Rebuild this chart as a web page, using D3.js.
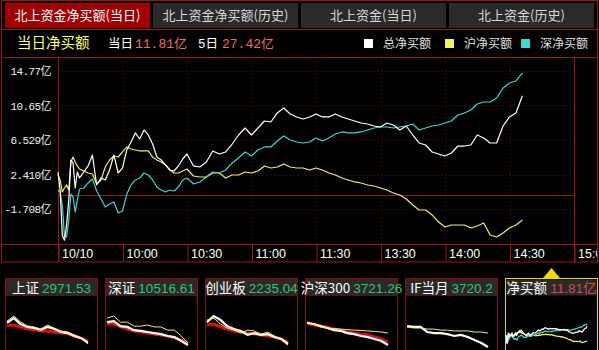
<!DOCTYPE html>
<html>
<head>
<meta charset="utf-8">
<script src="https://cdn.jsdelivr.net/npm/d3@7"></script>
<style>
  body { margin: 0; background: #000; }
  svg { display: block; }
  text { font-family: 'Noto Sans CJK SC', sans-serif; }
</style>
</head>
<body>
<div id="chart"></div>
<script>
// Northbound flow, intraday (亿). minutes since 9:30, trading time only
const minutes = [0, 1, 2, 3, 4, 5, 6, 7, 8, 9, 10,
  12, 14, 16, 18, 20, 22, 24, 26, 28, 30, 32, 34, 36, 38, 40, 42, 44, 46, 48, 50, 52, 54, 56, 58, 60,
  63, 66, 69, 72, 75, 78, 81, 84, 87, 90, 93, 96, 99, 102, 105, 108, 111, 114, 117, 120, 123, 126,
  129, 132, 135, 138, 141, 144, 147, 150, 153, 156, 159, 162, 165, 168, 171, 174, 177, 180, 183,
  186, 189, 192, 195, 198, 201, 204, 207, 210, 213, 216];

const totalNet = [2.71, 0.56, -4.84, -5.43, -3.64, -0.63, 4.14, 3.79, 0.80, 2.71, 2.00,
  2.71, 3.43, 4.74, 1.16, 2.00, 1.76, 2.95, 4.74, 2.59, 3.19, 5.34, 6.29, 7.37, 6.65, 7.73, 7.13, 6.05, 4.50, 4.14, 3.55, 2.95, 2.83, 3.43, 4.26, 4.86,
  3.43, 3.31, 3.91, 5.22, 4.86, 5.10, 6.05, 7.13, 7.96, 7.13, 7.96, 8.80, 8.68, 9.76, 10.35, 9.64,
  9.28, 9.04, 9.28, 9.64, 9.28, 9.28, 9.64, 9.28, 9.04, 8.80, 8.56, 8.44, 8.20, 8.08, 8.56, 8.32,
  7.73, 8.20, 7.13, 6.17, 5.93, 5.10, 4.86, 4.62, 4.98, 5.81, 5.81, 5.93, 7.13, 6.77, 6.17, 6.17,
  8.20, 9.28, 9.76, 11.81];

const shNet = [2.35, 1.76, 0.32, 0.80, 1.16, 0.56, 3.90, 4.50, 3.90, 3.43, 3.07,
  2.83, 2.59, 2.47, 1.28, 1.76, 3.31, 4.14, 4.62, 4.50, 5.10, 5.70, 5.46, 5.34, 5.22, 5.22, 5.22, 4.50, 4.14, 3.90, 3.55, 2.95, 2.59, 2.59, 2.83, 3.07,
  2.23, 2.11, 2.11, 2.59, 2.59, 1.99, 2.35, 2.35, 2.71, 2.59, 2.83, 3.43, 3.19, 3.31, 3.67, 3.31,
  3.19, 3.19, 2.95, 3.19, 2.95, 2.59, 2.35, 1.99, 1.76, 1.52, 1.40, 1.16, 1.04, 0.80, 0.56, 0.20,
  -0.04, -0.51, -1.23, -1.83, -1.83, -2.42, -3.26, -3.86, -3.62, -3.62, -3.62, -3.98, -3.74, -3.38,
  -4.81, -5.05, -4.57, -3.98, -3.62, -3.02];

const szNet = [0.56, 0.32, -1.23, -4.93, -5.05, -3.02, 0.08, -0.27, -2.07, -0.63, 0.68,
  0.80, 1.40, 1.87, 0.44, -0.51, -1.47, -1.11, -0.87, -2.19, -1.95, 0.08, 1.16, 1.76, 2.00, 2.59, 2.35, 1.76, 0.92, 0.56, 0.32, 0.56, 0.44, 0.92, 1.76, 2.00,
  1.28, 1.52, 2.11, 2.71, 2.59, 2.95, 3.79, 4.38, 5.10, 4.62, 5.34, 5.70, 5.70, 6.41, 7.01, 6.53,
  6.29, 6.17, 6.29, 6.77, 6.41, 6.77, 7.25, 7.49, 7.37, 7.37, 7.49, 7.73, 7.96, 8.08, 8.08, 7.96,
  8.08, 8.20, 8.44, 7.73, 7.96, 8.20, 8.32, 8.56, 8.80, 9.52, 9.76, 10.11, 10.83, 11.07, 11.07, 11.55,
  12.74, 13.34, 13.58, 14.53];

const yTicks = [14.77, 10.65, 6.529, 2.410, -1.708];
const yTickLabels = ['14.77亿', '10.65亿', '6.529亿', '2.410亿', '-1.708亿'];
const xTicks = [0, 30, 60, 90, 120, 150, 180, 210, 240];
const xTickLabels = ['10/10', '10:00', '10:30', '11:00', '11:30', '13:30', '14:00', '14:30', '15:00'];

const tabLabels = ['北上资金净买额(当日)', '北上资金净买额(历史)', '北上资金(当日)', '北上资金(历史)'];
const legendNames = ['总净买额', '沪净买额', '深净买额'];
const todayNet = '11.81亿';
const fiveDayNet = '27.42亿';

// bottom thumbnails (index % change, 13 samples through the day)
const thumbNames = ['上证', '深证', '创业板', '沪深300', 'IF当月', '净买额'];
const thumbValues = ['2971.53', '10516.61', '2235.04', '3721.26', '3720.2', '11.81亿'];
const thumbWhite = [
  [-0.26, -0.08, -0.30, -0.41, -0.45, -0.52, -0.41, -0.49, -0.60, -0.64, -0.75, -0.83, -1.01],
  [-0.23, -0.19, -0.38, -0.41, -0.53, -0.56, -0.60, -0.64, -0.68, -0.75, -0.79, -0.94, -1.09],
  [-0.23, 0.00, -0.15, -0.38, -0.49, -0.56, -0.71, -0.64, -0.71, -0.68, -0.79, -0.86, -1.05],
  [-0.26, -0.30, -0.38, -0.45, -0.53, -0.56, -0.64, -0.68, -0.75, -0.79, -0.86, -0.94, -1.09],
  [-0.38, -0.41, -0.41, -0.60, -0.64, -0.64, -0.68, -0.75, -0.71, -0.79, -0.90, -1.01, -1.16]
];
const thumbYellow = [
  [-0.19, 0.00, -0.22, -0.37, -0.41, -0.49, -0.34, -0.45, -0.56, -0.60, -0.71, -0.83, -1.05],
  [-0.08, 0.00, -0.23, -0.23, -0.38, -0.38, -0.34, -0.41, -0.41, -0.53, -0.53, -0.75, -1.01],
  [-0.15, -0.08, -0.30, -0.45, -0.53, -0.64, -0.53, -0.56, -0.68, -0.60, -0.75, -0.90, -1.09],
  [-0.23, -0.30, -0.41, -0.45, -0.47, -0.49, -0.51, -0.53, -0.54, -0.56, -0.58, -0.60, -0.64],
  [-0.41, -0.45, -0.45, -0.49, -0.49, -0.53, -0.53, -0.56, -0.56, -0.56, -0.60, -0.60, -0.64]
];
const thumbRed = [
  [-0.37, -0.34, -0.41, -0.49, -0.52, -0.56, -0.56, -0.60, -0.64, -0.67, -0.75, -0.83, -0.94],
  [-0.30, -0.30, -0.41, -0.49, -0.56, -0.60, -0.64, -0.68, -0.71, -0.75, -0.83, -0.90, -1.01],
  [-0.34, -0.30, -0.41, -0.49, -0.56, -0.60, -0.64, -0.68, -0.71, -0.75, -0.79, -0.86, -0.98],
  [-0.26, -0.34, -0.38, -0.41, -0.49, -0.53, -0.60, -0.64, -0.68, -0.71, -0.79, -0.86, -0.98],
  null
];

const frameColor = '#9a1818';
const gridColor = '#6a0c0c';
const colors = { total: '#ffffff', sh: '#f4f060', sz: '#3ed8d4' };

const svg = d3.select('#chart').append('svg')
  .attr('width', 599)
  .attr('height', 350)
  .style('background', '#000');

// tabs
const tabs = svg.append('g');
tabLabels.forEach((label, i) => {
  const tx = 5 + i * 148;
  tabs.append('rect')
    .attr('x', tx).attr('y', 3)
    .attr('width', 145).attr('height', 25)
    .attr('fill', i === 0 ? '#a00000' : '#2a2a2a');
  tabs.append('text')
    .attr('x', tx + 72.5).attr('y', 20)
    .attr('text-anchor', 'middle')
    .attr('font-size', 13)
    .attr('fill', i === 0 ? '#ffffff' : '#d8d8d8')
    .text(label);
});

// outer frame and separators
const frame = svg.append('g').attr('stroke', frameColor).attr('stroke-width', 1).attr('fill', 'none');
frame.append('rect').attr('x', 1.5).attr('y', 0.5).attr('width', 596).attr('height', 261.5);
[29.5, 57.5, 244.5].forEach(yy => {
  frame.append('line').attr('x1', 1.5).attr('x2', 597.5).attr('y1', yy).attr('y2', yy);
});

// header row
svg.append('text')
  .attr('x', 17).attr('y', 48)
  .attr('font-size', 14.5)
  .attr('fill', '#ffff66')
  .text('当日净买额');

const info = svg.append('text').attr('y', 48).attr('font-size', 12.5);
info.append('tspan').attr('x', 108).attr('fill', '#fff').text('当日');
info.append('tspan').attr('x', 135).attr('fill', '#f06a6a')
  .style('font-family', "'Liberation Mono', 'Noto Sans CJK SC'").attr('font-size', 13).text(todayNet);
info.append('tspan').attr('x', 198).attr('fill', '#fff')
  .style('font-family', "'Liberation Mono', 'Noto Sans CJK SC'").text('5日');
info.append('tspan').attr('x', 222).attr('fill', '#f06a6a')
  .style('font-family', "'Liberation Mono', 'Noto Sans CJK SC'").attr('font-size', 13).text(fiveDayNet);

// legend
const legendColors = [colors.total, colors.sh, colors.sz];
const legendX = [364, 445, 521];
legendNames.forEach((name, i) => {
  svg.append('rect')
    .attr('x', legendX[i]).attr('y', 39)
    .attr('width', 9).attr('height', 9)
    .attr('fill', legendColors[i]);
  svg.append('text')
    .attr('x', legendX[i] + 19).attr('y', 48)
    .attr('font-size', 12)
    .attr('fill', '#e0e0e0')
    .text(name);
});

// scales
const x = d3.scaleLinear().domain([0, 240]).range([58, 574]);
const y = d3.scaleLinear().domain([-5.887, 16.44]).range([244, 57]);

// dotted grid
const grid = svg.append('g').attr('stroke', gridColor).attr('stroke-dasharray', '1,3');
yTicks.forEach(v => {
  grid.append('line')
    .attr('x1', 50).attr('x2', 574)
    .attr('y1', Math.round(y(v)) + 0.5).attr('y2', Math.round(y(v)) + 0.5);
});
xTicks.slice(1, -1).forEach(m => {
  grid.append('line')
    .attr('x1', Math.round(x(m)) + 0.5).attr('x2', Math.round(x(m)) + 0.5)
    .attr('y1', 58).attr('y2', 244);
});

// zero line + plot sides
svg.append('line')
  .attr('x1', 58).attr('x2', 574)
  .attr('y1', Math.round(y(0)) + 0.5).attr('y2', Math.round(y(0)) + 0.5)
  .attr('stroke', frameColor);
[0, 240].forEach(m => {
  svg.append('line')
    .attr('x1', Math.round(x(m)) + 0.5).attr('x2', Math.round(x(m)) + 0.5)
    .attr('y1', 57).attr('y2', 262)
    .attr('stroke', frameColor);
});

// y axis labels
const yAxis = d3.axisLeft(y)
  .tickValues(yTicks)
  .tickFormat((d, i) => yTickLabels[i])
  .tickSize(0)
  .tickPadding(7);
const yg = svg.append('g').attr('transform', 'translate(58,0)').call(yAxis);
yg.select('.domain').remove();
yg.selectAll('text')
  .attr('fill', '#f0f0f0')
  .attr('font-size', 11)
  .style('font-family', "'Liberation Mono', 'Noto Sans CJK SC'")
  .attr('letter-spacing', -0.6)
  .attr('dy', '0.35em');

// x axis labels
svg.append('clipPath').attr('id', 'frameClip')
  .append('rect').attr('x', 0).attr('y', 0).attr('width', 597).attr('height', 350);
const xAxis = d3.axisBottom(x)
  .tickValues(xTicks)
  .tickFormat((d, i) => xTickLabels[i])
  .tickSize(17)
  .tickPadding(0);
const xg = svg.append('g')
  .attr('clip-path', 'url(#frameClip)')
  .append('g')
  .attr('transform', 'translate(0.5,244.5)')
  .call(xAxis);
xg.select('.domain').remove();
xg.selectAll('.tick line').attr('stroke', frameColor);
xg.selectAll('.tick text')
  .attr('fill', '#ffffff')
  .attr('font-size', 12.5)
  .style('font-family', "'Liberation Sans', Arial, sans-serif")
  .attr('text-anchor', 'start')
  .attr('x', 3)
  .attr('y', 2)
  .attr('dy', '0.9em');

// lines
const line = d3.line()
  .x((d, i) => x(minutes[i]))
  .y(d => y(d));

[[shNet, colors.sh], [szNet, colors.sz], [totalNet, colors.total]].forEach(([series, c]) => {
  svg.append('path')
    .datum(series)
    .attr('fill', 'none')
    .attr('stroke', c)
    .attr('stroke-width', 1.2)
    .attr('stroke-linejoin', 'round')
    .attr('d', line);
});

// bottom thumbnails
const thumbs = svg.append('g');
thumbNames.forEach((name, i) => {
  const px = 5 + i * 100;
  const isNet = i === 5;
  const border = isNet ? '#e8d800' : '#7a1414';
  thumbs.append('rect')
    .attr('x', px + 0.5).attr('y', 278.5)
    .attr('width', 92).attr('height', 80)
    .attr('fill', '#000').attr('stroke', border);
  thumbs.append('rect')
    .attr('x', px + 1.5).attr('y', 279.5)
    .attr('width', 90).attr('height', 16)
    .attr('fill', '#2a2a2a').attr('stroke', isNet ? 'none' : '#5a1010');
  const t = thumbs.append('text')
    .attr('x', px + 46.5).attr('y', 292.5)
    .attr('text-anchor', 'middle')
    .attr('font-size', 13.5);
  t.append('tspan').attr('fill', '#ffffff').text(name + ' ');
  t.append('tspan')
    .attr('fill', isNet ? '#d84a4a' : '#2fc66e')
    .style('font-family', "'Liberation Sans', 'Noto Sans CJK SC'")
    .text(thumbValues[i]);

  if (!isNet) {
    const tx = d3.scaleLinear().domain([0, 12]).range([px + 2, px + 83]);
    const ty = d3.scaleLinear().domain([-1.2, 0.6]).range([348, 300]);
    const tl = d3.line().x((d, k) => tx(k)).y(d => ty(d));
    if (thumbRed[i]) {
      thumbs.append('path').datum(thumbRed[i])
        .attr('fill', 'none').attr('stroke', '#e01010').attr('stroke-width', 3).attr('d', tl);
    }
    thumbs.append('path').datum(thumbWhite[i])
      .attr('fill', 'none').attr('stroke', '#ffffff').attr('stroke-width', 2.2).attr('d', tl);
    thumbs.append('path').datum(thumbYellow[i])
      .attr('fill', 'none').attr('stroke', '#f4f060').attr('stroke-width', 1).attr('d', tl);
  } else {
    const nx = d3.scaleLinear().domain([0, 240]).range([px + 1, px + 91]);
    const ny = d3.scaleLinear().domain([-5.887, 16.44]).range([343.5, 321.8]);
    const nl = d3.line().x((d, k) => nx(minutes[k])).y(d => ny(d));
    [[shNet, colors.sh], [szNet, colors.sz], [totalNet, colors.total]].forEach(([series, c]) => {
      thumbs.append('path').datum(series)
        .attr('fill', 'none').attr('stroke', c).attr('stroke-width', 1.3).attr('d', nl);
    });
    // selection marker
    thumbs.append('path')
      .attr('d', `M${px + 38},278 L${px + 55},278 L${px + 46.5},268 Z`)
      .attr('fill', '#f0d800');
  }
});
</script>
</body>
</html>
